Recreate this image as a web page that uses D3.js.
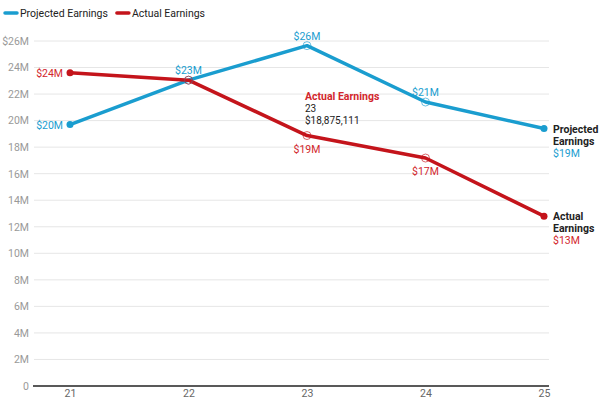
<!DOCTYPE html>
<html><head><meta charset="utf-8">
<script src="https://cdn.jsdelivr.net/npm/d3@7"></script>
<style>
body{margin:0;background:#fff;}
svg{font-family:Roboto, "Noto Sans", sans-serif;}
</style></head>
<body>
<svg id="c" width="600" height="400"></svg>
<script>
const categories = ["21","22","23","24","25"];
const projected = [19700000, 23050000, 25650000, 21400000, 19400000];
const actual = [23600000, 23050000, 18875111, 17180000, 12800000];
const yTicks = [0,2e6,4e6,6e6,8e6,10e6,12e6,14e6,16e6,18e6,20e6,22e6,24e6,26e6];
const seriesNames = ["Projected Earnings","Actual Earnings"];
const colors = ["#1a9dcf","#c4141b"];
const labelColors = ["#1a9dcf","#d2262c"];

const svg = d3.select("#c");
const x = d3.scalePoint().domain(categories).range([70,544]);
const y = d3.scaleLinear().domain([0,26e6]).range([386,41]);
const FS = 10.5;

// grid
svg.append("g").selectAll("line").data(yTicks.filter(d=>d>0)).join("line")
  .attr("x1",34).attr("x2",549).attr("y1",d=>y(d)).attr("y2",d=>y(d))
  .attr("stroke","#e6e6e6").attr("stroke-width",1);

// y axis labels
const yAxis = d3.axisLeft(y).tickValues(yTicks).tickSize(0).tickPadding(0)
  .tickFormat(d=> d===0 ? "0" : (d===26e6 ? "$26M" : (d/1e6)+"M"));
const gy = svg.append("g").attr("transform","translate(29,0)").call(yAxis);
gy.select(".domain").remove();
gy.selectAll("text").attr("fill","#999").attr("font-size",FS).attr("font-family","Roboto");

// x axis
const xAxis = d3.axisBottom(x).tickSize(0).tickPadding(4);
const gx = svg.append("g").attr("transform","translate(0,386)").call(xAxis);
gx.select(".domain").remove();
gx.selectAll("text").attr("fill","#666").attr("font-size",FS).attr("font-family","Roboto");
svg.append("line").attr("x1",33).attr("x2",549).attr("y1",y(0)).attr("y2",y(0))
  .attr("stroke","#222").attr("stroke-width",1.5);

const data = [projected, actual];
const line = d3.line().x((d,i)=>x(categories[i])).y(d=>y(d));
data.forEach((s,k)=>{
  svg.append("path").datum(s).attr("d",line).attr("fill","none")
    .attr("stroke",colors[k]).attr("stroke-width",3.5).attr("stroke-linejoin","round");
});
data.forEach((s,k)=>{
  s.forEach((v,i)=>{
    if(i===0 || i===s.length-1){
      svg.append("circle").attr("cx",x(categories[i])).attr("cy",y(v)).attr("r",3.5).attr("fill",colors[k]);
    } else {
      svg.append("circle").attr("cx",x(categories[i])).attr("cy",y(v)).attr("r",4)
        .attr("fill","none").attr("stroke",colors[k]).attr("stroke-width",0.8).attr("stroke-opacity",0.8);
    }
  });
});

const fmt = v => "$" + Math.round(v/1e6) + "M";
function lbl(txt, xx, yy, col, anchor){
  svg.append("text").attr("x",xx).attr("y",yy).attr("fill",col).attr("font-size",FS)
    .attr("text-anchor",anchor).text(txt);
}
// projected labels
lbl(fmt(projected[0]), x("21")-7, y(projected[0])+4, labelColors[0], "end");
[1,2,3].forEach(i=> lbl(fmt(projected[i]), x(categories[i]), y(projected[i])-6, labelColors[0], "middle"));
// actual labels
lbl(fmt(actual[0]), x("21")-7, y(actual[0])+4, labelColors[1], "end");
[2,3].forEach(i=> lbl(fmt(actual[i]), x(categories[i]), y(actual[i])+17, labelColors[1], "middle"));

// end labels
function endLabel(k, v){
  const parts = seriesNames[k].split(" ");
  const x0 = x("25")+9, y0 = y(v)+4;
  svg.append("text").attr("x",x0).attr("y",y0).attr("font-size",FS).attr("font-weight","bold").attr("fill","#222").text(parts[0]);
  svg.append("text").attr("x",x0).attr("y",y0+12).attr("font-size",FS).attr("font-weight","bold").attr("fill","#222").text(parts[1]);
  svg.append("text").attr("x",x0).attr("y",y0+24).attr("font-size",FS).attr("fill",labelColors[k]).text(fmt(v));
}
endLabel(0, projected[4]);
endLabel(1, actual[4]);

// tooltip
const tx = x("23")-2, ty = y(actual[2]) - 32;
svg.append("text").attr("x",tx).attr("y",ty-4).attr("font-size",FS).attr("font-weight","bold").attr("fill",labelColors[1]).text(seriesNames[1]);
svg.append("text").attr("x",tx).attr("y",ty+8).attr("font-size",10).attr("fill","#222").text(categories[2]);
svg.append("text").attr("x",tx).attr("y",ty+20).attr("font-size",10).attr("fill","#222").text(d3.format("$,")(actual[2]));

// legend
const lg = svg.append("g");
let lx = 5;
seriesNames.forEach((n,k)=>{
  lg.append("line").attr("x1",lx).attr("x2",lx+12).attr("y1",13).attr("y2",13).attr("stroke",colors[k]).attr("stroke-width",3.5).attr("stroke-linecap","round");
  const t = lg.append("text").attr("x",lx+15).attr("y",17).attr("font-size",FS).attr("fill","#222").text(n);
  lx += 15 + t.node().getComputedTextLength() + 9;
});
</script>
</body></html>
